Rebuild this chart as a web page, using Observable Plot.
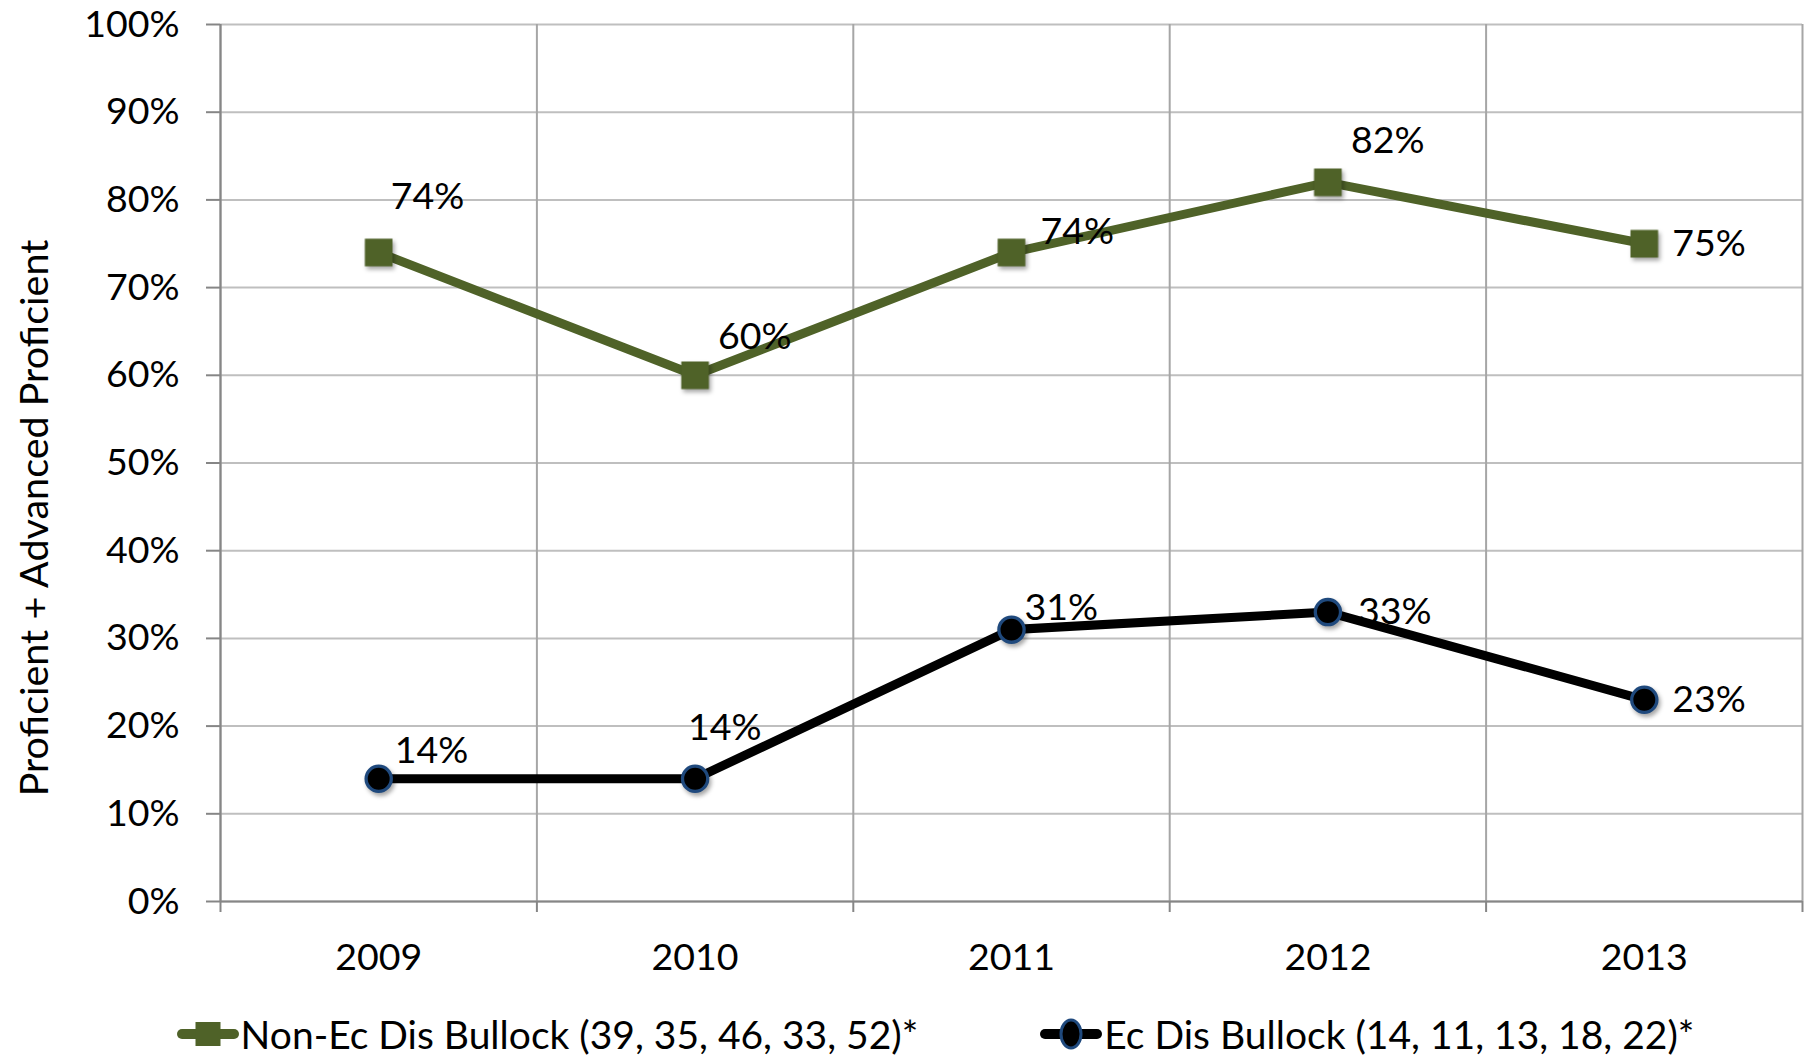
<!DOCTYPE html>
<html>
<head>
<meta charset="utf-8">
<script src="https://cdn.jsdelivr.net/npm/d3@7"></script>
<script src="https://cdn.jsdelivr.net/npm/@observablehq/plot@0.6"></script>
<style>
  body { margin: 0; background: #fff; font-family: Lato, "Open Sans", sans-serif; }
  #wrap { position: relative; width: 1816px; height: 1060px; overflow: hidden; }
  #ytitle { position: absolute; left: 32px; top: 518px; transform: translate(-50%, -50%) rotate(-90deg);
            white-space: nowrap; font-size: 39.5px; color: #000; }
  #legend { position: absolute; left: 0; top: 1034px; width: 1816px; transform: translateY(-50%);
            display: flex; justify-content: center; align-items: center; padding-left: 55px; box-sizing: border-box;
            font-size: 39px; color: #000; }
  .item { display: flex; align-items: center; white-space: nowrap; }
  .item svg { margin-right: 2px; }
</style>
</head>
<body>
<div id="wrap">
  <div id="chart"></div>
  <div id="ytitle"></div>
  <div id="legend"></div>
</div>
<script>
// ---- data ----
const years = [2009, 2010, 2011, 2012, 2013];
const nonEcValues = [0.74, 0.60, 0.74, 0.82, 0.75];
const ecValues = [0.14, 0.14, 0.31, 0.33, 0.23];
const yTicks = [0, 0.1, 0.2, 0.3, 0.4, 0.5, 0.6, 0.7, 0.8, 0.9, 1.0];
const seriesNames = ["Non-Ec Dis Bullock (39, 35, 46, 33, 52)*", "Ec Dis Bullock (14, 11, 13, 18, 22)*"];
const yTitle = "Proficient + Advanced Proficient";

// ---- label nudges (layout only, pixels) ----
const nonEcLabelNudge = [[12, -56], [23, -38], [29, -21], [23, -41], [28, 0]];
const ecLabelNudge = [[16, -28], [-7, -51], [13, -22], [30, 0], [28, 0]];

// ---- styles ----
const green = "#4f6228";
const ring = "#1f497d";
const fontSize = 37.5;

const nonEc = years.map((y, i) => ({year: y, value: nonEcValues[i]}));
const ec = years.map((y, i) => ({year: y, value: ecValues[i]}));
const boundaries = [years[0] - 0.5, ...years.map(y => y + 0.5)];
const pct = d => Math.round(d * 100) + "%";

const labelMarks = [];
nonEc.forEach((d, i) => labelMarks.push(Plot.text([d], {
  x: "year", y: "value", text: r => pct(r.value), textAnchor: "start", lineAnchor: "middle",
  dx: nonEcLabelNudge[i][0], dy: nonEcLabelNudge[i][1], fill: "#000", fontSize
})));
ec.forEach((d, i) => labelMarks.push(Plot.text([d], {
  x: "year", y: "value", text: r => pct(r.value), textAnchor: "start", lineAnchor: "middle",
  dx: ecLabelNudge[i][0], dy: ecLabelNudge[i][1], fill: "#000", fontSize
})));

const chart = Plot.plot({
  width: 1816,
  height: 985,
  marginLeft: 220,
  marginRight: 14,
  marginTop: 24,
  marginBottom: 84,
  style: {fontFamily: "Lato, 'Open Sans', sans-serif", fontSize: fontSize + "px", color: "#000", background: "#fff", overflow: "visible"},
  x: {type: "linear", domain: [boundaries[0], boundaries[boundaries.length - 1]]},
  y: {domain: [0, 1]},
  marks: [
    Plot.gridY(yTicks, {stroke: "#bfbfbf", strokeOpacity: 1, strokeWidth: 2}),
    Plot.ruleX(boundaries, {stroke: "#a6a6a6", strokeWidth: 2}),
    Plot.ruleX([boundaries[0]], {stroke: "#868686", strokeWidth: 2}),
    Plot.ruleY([0], {stroke: "#868686", strokeWidth: 2}),
    Plot.axisY(yTicks, {tickFormat: pct, tickSize: 14, tickPadding: 27, stroke: "#868686", strokeWidth: 2, label: null, fontSize}),
    Plot.axisX(boundaries, {tickSize: 11, tickFormat: () => "", stroke: "#868686", strokeWidth: 2, label: null}),
    Plot.axisX(years, {tickSize: 0, tickPadding: 42, tickFormat: d => String(d), label: null, fontSize}),
    Plot.line(nonEc, {x: "year", y: "value", stroke: green, strokeWidth: 9}),
    Plot.line(ec, {x: "year", y: "value", stroke: "#000", strokeWidth: 9}),
    Plot.dot(nonEc, {x: "year", y: "value", symbol: "square", r: 15.6, fill: green, stroke: "none"}),
    Plot.dot(ec, {x: "year", y: "value", symbol: "circle", r: 12.6, fill: "#000", stroke: ring, strokeWidth: 3.3}),
    ...labelMarks
  ]
});
chart.querySelectorAll('g[aria-label="dot"]').forEach(g => {
  g.style.filter = "drop-shadow(2px 3px 2px rgba(0,0,0,0.35))";
});
document.getElementById("chart").appendChild(chart);
document.getElementById("ytitle").textContent = yTitle;

// ---- legend ----
const legend = d3.select("#legend");
const items = [
  {name: seriesNames[0], color: green, symbol: "square"},
  {name: seriesNames[1], color: "#000", symbol: "circle"}
];
items.forEach((it, i) => {
  const div = legend.append("div").attr("class", "item").style("margin-left", i ? "122px" : "0px");
  const s = div.append("svg").attr("width", 62).attr("height", 34);
  s.append("line").attr("x1", 5).attr("x2", 57).attr("y1", 17).attr("y2", 17)
    .attr("stroke", it.color).attr("stroke-width", 10).attr("stroke-linecap", "round");
  if (it.symbol === "square") {
    s.append("rect").attr("x", 18.5).attr("y", 5).attr("width", 25).attr("height", 24).attr("fill", it.color);
  } else {
    s.append("ellipse").attr("cx", 31).attr("cy", 17).attr("rx", 10).attr("ry", 14)
      .attr("fill", "#000").attr("stroke", ring).attr("stroke-width", 3);
  }
  div.append("span").text(it.name);
});
</script>
</body>
</html>
